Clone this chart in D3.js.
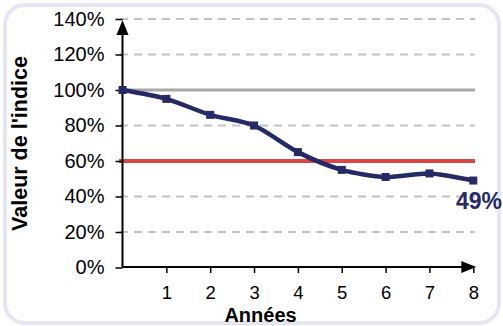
<!DOCTYPE html>
<html>
<head>
<meta charset="utf-8">
<script src="https://cdn.jsdelivr.net/npm/d3@7"></script>
<style>
  html, body { margin: 0; padding: 0; background: #ffffff; }
  svg { display: block; font-family: "Liberation Sans", Arial, sans-serif; }
</style>
</head>
<body>
<svg id="chart" width="503" height="326"></svg>
<script>
// Index value (% of the starting level) over the years
const years = [0, 1, 2, 3, 4, 5, 6, 7, 8];
const indexValues = [100, 95, 86, 80, 65, 55, 51, 53, 49];
const yTicks = [0, 20, 40, 60, 80, 100, 120, 140];
const xTickLabels = [1, 2, 3, 4, 5, 6, 7, 8];
const referenceLevel = 100;   // grey line
const thresholdLevel = 60;    // red line
const endLabel = "49%";

const svg = d3.select("#chart");
const W = 503, H = 326;

// rounded panel frame
svg.append("rect")
  .attr("x", 5).attr("y", 5).attr("width", W - 9).attr("height", H - 8)
  .attr("rx", 20).attr("ry", 20)
  .attr("fill", "#ffffff").attr("stroke", "#e6e6f2").attr("stroke-width", 4);

const x = d3.scaleLinear().domain([0, 8]).range([122.5, 473.3]);
const y = d3.scaleLinear().domain([0, 140]).range([267.5, 19]);

const gridLeft = 120, gridRight = 475;

// dashed grid lines
svg.append("g").selectAll("line")
  .data(yTicks.filter(t => t !== 0 && t !== referenceLevel && t !== thresholdLevel))
  .join("line")
  .attr("x1", gridLeft).attr("x2", gridRight)
  .attr("y1", d => y(d)).attr("y2", d => y(d))
  .attr("stroke", "#c4c4c4").attr("stroke-width", 2)
  .attr("stroke-dasharray", "8,6");

// reference lines
svg.append("line")
  .attr("x1", gridLeft).attr("x2", gridRight)
  .attr("y1", y(referenceLevel)).attr("y2", y(referenceLevel))
  .attr("stroke", "#a8a8a8").attr("stroke-width", 3);
svg.append("line")
  .attr("x1", gridLeft - 1).attr("x2", gridRight)
  .attr("y1", y(thresholdLevel)).attr("y2", y(thresholdLevel))
  .attr("stroke", "#d94744").attr("stroke-width", 4);

// y axis
const yAxis = d3.axisLeft(y).tickValues(yTicks).tickSize(7).tickPadding(11)
  .tickFormat(d => d + "%");
const gy = svg.append("g").attr("transform", `translate(${x(0)},0)`).call(yAxis);
gy.select(".domain").remove();
gy.selectAll(".tick line").attr("stroke", "#000").attr("stroke-width", 1.5);
gy.selectAll(".tick text").attr("font-size", 20).attr("fill", "#000")
  .attr("font-family", "Liberation Sans, Arial, sans-serif");
svg.append("line")
  .attr("x1", x(0)).attr("x2", x(0)).attr("y1", y(0)).attr("y2", 30)
  .attr("stroke", "#000").attr("stroke-width", 2);
svg.append("path")
  .attr("d", `M${x(0)},${y(140) + 1} L${x(0) - 6},${y(140) + 16} L${x(0) + 6},${y(140) + 16} Z`)
  .attr("fill", "#000");

// x axis
const xAxis = d3.axisBottom(x).tickValues(xTickLabels).tickSize(6).tickPadding(13);
const gx = svg.append("g").attr("transform", `translate(0,${y(0) - 0.5})`).call(xAxis);
gx.select(".domain").remove();
gx.selectAll(".tick line").attr("stroke", "#000").attr("stroke-width", 1.5);
gx.selectAll(".tick text").attr("font-size", 18.5).attr("fill", "#000")
  .attr("font-family", "Liberation Sans, Arial, sans-serif");
svg.append("line")
  .attr("x1", x(0)).attr("x2", 466).attr("y1", y(0) - 0.5).attr("y2", y(0) - 0.5)
  .attr("stroke", "#000").attr("stroke-width", 2);
svg.append("path")
  .attr("d", `M${x(8) + 3},${y(0) - 0.5} L${x(8) - 12},${y(0) - 6.5} L${x(8) - 12},${y(0) + 5.5} Z`)
  .attr("fill", "#000");

// index series
const pts = years.map((yr, i) => [x(yr), y(indexValues[i])]);
svg.append("path")
  .attr("d", d3.line().curve(d3.curveCardinal.tension(0.2))(pts))
  .attr("fill", "none").attr("stroke", "#252966").attr("stroke-width", 4.5)
  .attr("stroke-linejoin", "round");
svg.append("g").selectAll("rect")
  .data(pts)
  .join("rect")
  .attr("x", d => d[0] - 4).attr("y", d => d[1] - 4)
  .attr("width", 8).attr("height", 8)
  .attr("fill", "#252966");

// end value label
svg.append("text")
  .attr("x", 502).attr("y", 208.5).attr("text-anchor", "end")
  .attr("font-size", 23).attr("font-weight", "bold").attr("fill", "#252966")
  .text(endLabel);

// axis titles
svg.append("text")
  .attr("x", 260.5).attr("y", 321.5).attr("text-anchor", "middle")
  .attr("font-size", 20).attr("font-weight", "bold").attr("fill", "#000")
  .text("Années");
svg.append("text")
  .attr("transform", "translate(27,143.5) rotate(-90)").attr("text-anchor", "middle")
  .attr("font-size", 21.5).attr("font-weight", "bold").attr("fill", "#000")
  .text("Valeur de l'indice");
</script>
</body>
</html>
